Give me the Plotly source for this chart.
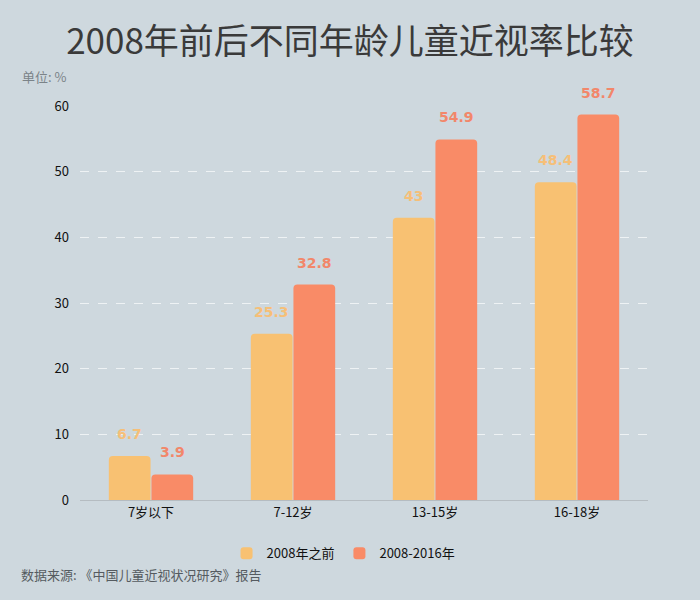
import plotly.graph_objects as go

categories = ["7岁以下", "7-12岁", "13-15岁", "16-18岁"]
before_2008 = [6.7, 25.3, 43, 48.4]
y2008_2016 = [3.9, 32.8, 54.9, 58.7]
series_names = ["2008年之前", "2008-2016年"]
y_ticks = [0, 10, 20, 30, 40, 50, 60]

C1 = "#F8C172"
C2 = "#F98B67"
T1 = "#F6BF78"
T2 = "#F2876A"
FONT = "Noto Sans CJK SC"
TITLE = "2008年前后不同年龄儿童近视率比较"

fig = go.Figure()
fig.add_trace(go.Bar(name=series_names[0], x=categories, y=before_2008,
                     marker=dict(color=C1, cornerradius=4, line=dict(width=0))))
fig.add_trace(go.Bar(name=series_names[1], x=categories, y=y2008_2016,
                     marker=dict(color=C2, cornerradius=4, line=dict(width=0))))

for i, (vals, col) in enumerate([(before_2008, T1), (y2008_2016, T2)]):
    for j, v in enumerate(vals):
        fig.add_annotation(x=categories[j], y=v, text=f"<b>{v:g}</b>",
                           showarrow=False, xref="x", yref="y",
                           xshift=(-21.5 if i == 0 else 21.5), yshift=22,
                           font=dict(family="DejaVu Sans", size=14, color=col))

fig.update_layout(
    width=700, height=600,
    paper_bgcolor="#CED8DE", plot_bgcolor="#CED8DE",
    margin=dict(l=80, r=52, t=106, b=100),
    barmode="group", bargap=0.4, bargroupgap=0.02,
    font=dict(family=FONT, size=13, color="#111"),
    title=dict(text=TITLE, x=0.5, xanchor="center", y=0.93, yanchor="middle",
               font=dict(family=FONT, size=35, color="#3a3a3a")),
    showlegend=True,
    legend=dict(orientation="h", x=0.258, xanchor="left", y=-0.135, yanchor="middle",
                font=dict(size=13, color="#111"), itemwidth=30, traceorder="normal",
                bgcolor="rgba(0,0,0,0)"),
    xaxis=dict(showline=True, linecolor="#b5bcc1", linewidth=1, ticks="",
               tickfont=dict(size=13, color="#111"), showgrid=False),
    yaxis=dict(range=[0, 60], tickvals=y_ticks, showgrid=True, gridcolor="#EEF2F4",
               griddash="dash", gridwidth=1, zeroline=False, ticks="",
               tickfont=dict(size=13, color="#111"), ticklabelstandoff=10),
)
fig.add_annotation(text="单位: %", xref="paper", yref="paper", x=-0.105, y=1.075,
                   xanchor="left", yanchor="middle", showarrow=False,
                   font=dict(size=13, color="#7b8388"))
fig.add_annotation(text="数据来源: 《中国儿童近视状况研究》报告", xref="paper", yref="paper",
                   x=-0.108, y=-0.188, xanchor="left", yanchor="middle", showarrow=False,
                   font=dict(size=13, color="#555b60"))
fig.write_html("out.html", config={"displayModeBar": False},
               post_script="document.body.style.margin='0';document.body.style.overflow='hidden';")
